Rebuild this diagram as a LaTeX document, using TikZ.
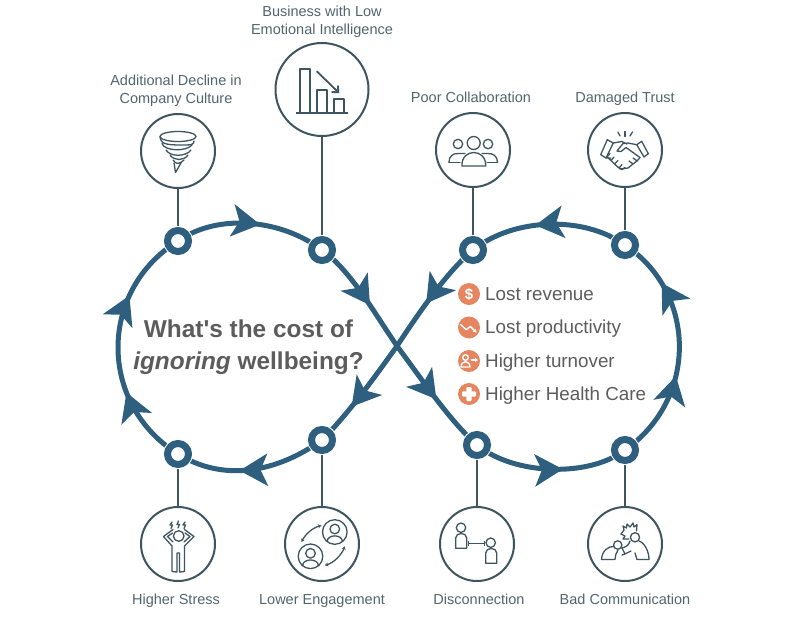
\documentclass[tikz,border=0pt]{standalone}
\usepackage{fontspec}
\setmainfont{Liberation Sans}
\newfontface\straightbold{Liberation Sans Bold}
\usetikzlibrary{positioning,arrows.meta,decorations.markings,backgrounds}
\definecolor{ringblue}{HTML}{2E5F7E}
\definecolor{stemgray}{HTML}{3E5560}
\definecolor{labelgray}{HTML}{51656F}
\definecolor{listgray}{HTML}{5C5C5C}
\definecolor{bulletorange}{HTML}{E58660}
\tikzset{
  dot/.style={circle,draw=ringblue,line width=7pt,fill=white,minimum size=21pt,inner sep=0pt,
    preaction={draw=white,line width=9pt}},
  iconring/.style={circle,draw=stemgray,line width=2pt,fill=white,minimum size=#1,inner sep=0pt},
  ringline/.style={color=ringblue,line width=5pt},
  midtip/.style={postaction={decorate,decoration={markings,mark=at position #1 with
    {\arrow{Stealth[length=28pt,width=32pt,inset=7pt]}}}}},
  stem/.style={draw=stemgray,line width=2pt},
  icon/.style={draw=stemgray,line width=1.3pt,line join=round,line cap=round},
  wicon/.style={draw=white,line width=1.4pt,line join=round,line cap=round},
  toplabel/.style={text=labelgray,font=\fontsize{14.5}{18}\selectfont,align=center,text depth=3pt,above=#1},
  botlabel/.style={text=labelgray,font=\fontsize{14.5}{18}\selectfont,text height=10pt,text depth=3pt,below=#1},
  bullet/.style={circle,fill=bulletorange,minimum size=22pt,inner sep=0pt,text=white,
    font=\fontsize{15}{15}\selectfont\bfseries},
  listtext/.style={text=listgray,font=\fontsize{18.8}{20}\selectfont,anchor=base west,inner sep=0pt},
}
\begin{document}
\begin{tikzpicture}[x=1pt,y=-1pt]
  \useasboundingbox (0,0) rectangle (800,627);

  \node (culturedot) [dot] at (178,241) {};
  \node (bizdot) [dot] at (322,250) {};
  \node (collabdot) [dot] at (473,250) {};
  \node (trustdot) [dot] at (625,245) {};
  \node (stressdot) [dot] at (178,454) {};
  \node (engagedot) [dot] at (322,440) {};
  \node (disconnectdot) [dot] at (477,445) {};
  \node (commdot) [dot] at (625,450) {};
  \coordinate (cross) at (397,346);

  \node (culture) [iconring=74pt] at (178,151) {};
  \node (biz) [iconring=93pt] at (322,89.5) {};
  \node (collab) [iconring=74pt] at (473,150) {};
  \node (trust) [iconring=74pt] at (625,150) {};
  \node (stress) [iconring=74pt] at (178,544) {};
  \node (engage) [iconring=74pt] at (322,544) {};
  \node (disconnect) [iconring=74pt] at (477,544) {};
  \node (comm) [iconring=74pt] at (625,544) {};

  \node (culturetxt) [toplabel=3pt of culture,xshift=-2pt] {Additional Decline in\\Company Culture};
  \node (biztxt) [toplabel=1pt of biz] {Business with Low\\Emotional Intelligence};
  \node (collabtxt) [toplabel=3pt of collab,xshift=-2pt] {Poor Collaboration};
  \node (trusttxt) [toplabel=3pt of trust] {Damaged Trust};
  \node (stresstxt) [botlabel=9pt of stress,xshift=-2pt] {Higher Stress};
  \node (engagetxt) [botlabel=9pt of engage] {Lower Engagement};
  \node (disconnecttxt) [botlabel=9pt of disconnect,xshift=2pt] {Disconnection};
  \node (commtxt) [botlabel=9pt of comm] {Bad Communication};

  \begin{scope}[on background layer]
    \draw [ringline,midtip=0.56] (culturedot.center) .. controls (218,213) and (281,219) .. (bizdot.center);
    \draw [ringline,midtip=0.60] (bizdot.center) .. controls (351,271) and (373,311) .. (cross);
    \draw [ringline,midtip=0.52] (cross) .. controls (423,381) and (450,421) .. (disconnectdot.center);
    \draw [ringline,midtip=0.58] (disconnectdot.center) .. controls (515,476) and (590,477) .. (commdot.center);
    \draw [ringline,midtip=0.38,midtip=0.78] (commdot.center) .. controls (698,399) and (697,293) .. (trustdot.center);
    \draw [ringline,midtip=0.58] (trustdot.center) .. controls (583,215) and (513,218) .. (collabdot.center);
    \draw [ringline,midtip=0.58] (collabdot.center) .. controls (447,272) and (420,311) .. (cross);
    \draw [ringline,midtip=0.63] (cross) .. controls (372,381) and (347,415) .. (engagedot.center);
    \draw [ringline,midtip=0.58] (engagedot.center) .. controls (276,473) and (223,482) .. (stressdot.center);
    \draw [ringline,midtip=0.32,midtip=0.71] (stressdot.center) .. controls (98,404) and (98,291) .. (culturedot.center);
    \draw [stem] (culturedot) -- (culture);
    \draw [stem] (bizdot) -- (biz);
    \draw [stem] (collabdot) -- (collab);
    \draw [stem] (trustdot) -- (trust);
    \draw [stem] (stressdot) -- (stress);
    \draw [stem] (engagedot) -- (engage);
    \draw [stem] (disconnectdot) -- (disconnect);
    \draw [stem] (commdot) -- (comm);
  \end{scope}

  % title and list
  \node (title) [text=listgray,font=\fontsize{24.4}{32}\selectfont\bfseries,align=center] at (248.5,347)
    {What{\straightbold '}s the cost of\\\textit{ignoring} wellbeing?};
  \node (revenue) [bullet] at (469,294) {\$};
  \node (productivity) [bullet] at (469,327.5) {};
  \node (turnover) [bullet] at (469,361) {};
  \node (healthcare) [bullet] at (469,394) {};
  \node (revenuetxt) [listtext] at (485,300) {Lost revenue};
  \node (productivitytxt) [listtext] at (485,333.5) {Lost productivity};
  \node (turnovertxt) [listtext] at (485,367) {Higher turnover};
  \node (healthcaretxt) [listtext] at (485,400) {Higher Health Care};

  \begin{scope}[shift={(469,327.5)}]
    \draw [wicon,-{Stealth[length=3.5pt,width=4pt]}] (-8.5,-3) -- (-2.7,2.2) -- (1.3,-1) -- (7.5,5);
  \end{scope}
  \begin{scope}[shift={(469,361)}]
    \draw [wicon] (-3.5,-3.5) circle (2.8);
    \draw [wicon] (-8,6) .. controls (-8,-1) and (1,-1) .. (1,6) -- cycle;
    \draw [wicon,-{Stealth[length=3pt,width=4pt]}] (2.5,-1) -- (9,-1);
  \end{scope}
  \begin{scope}[shift={(469,394)}]
    \fill [white,rounded corners=1pt] (-7,-2.7) rectangle (7,2.7);
    \fill [white,rounded corners=1pt] (-2.7,-7) rectangle (2.7,7);
  \end{scope}

  % tornado
  \begin{scope}[shift={(178,151)}]
    \draw [icon] (0,-14.5) ellipse (18 and 5);
    \draw [icon] (-18,-14) .. controls (-17,-6) and (-10,-6) .. (8,-6) .. controls (14,-6) and (16,-7) .. (16,-10);
    \draw [icon] (-16,-7.5) .. controls (-14,0) and (8,1) .. (14,-6);
    \draw [icon] (-12,-1) .. controls (-8,6) and (8,6) .. (13,-1);
    \draw [icon] (-8,4) .. controls (-4,10) and (6,10) .. (10,4);
    \draw [icon] (-5,9) .. controls (-2,14) and (2,13) .. (6,9);
    \draw [icon] (-4,12) -- (-2.5,21.5) -- (3,12);
  \end{scope}

  % falling bars
  \begin{scope}[shift={(322,89.5)}]
    \draw [icon,line width=1.8pt] (-22.3,22.7) -- (-22.3,-20.7) -- (-12.3,-20.7) -- (-12.3,22.7);
    \draw [icon,line width=1.8pt] (-5,22.7) -- (-5,0.3) -- (5,0.3) -- (5,22.7);
    \draw [icon,line width=1.8pt] (12.3,22.7) -- (12.3,9.3) -- (21.7,9.3) -- (21.7,22.7);
    \draw [icon,line width=2pt,line cap=butt] (-25.7,23.3) -- (26,23.3);
    \draw [icon,line width=1.8pt,-{Straight Barb[length=5pt,width=9pt]}] (-5,-18) -- (17.3,3.7);
  \end{scope}

  % three people
  \begin{scope}[shift={(473,150)}]
    \draw [icon] (0.7,-7) circle (6.5);
    \draw [icon] (-15,-6) circle (4.7);
    \draw [icon] (15,-6) circle (4.7);
    \draw [icon] (-11,16) .. controls (-12,-2) and (13.5,-2) .. (12.7,16) -- cycle;
    \draw [icon] (-24,12.3) .. controls (-24,6) and (-20,3) .. (-14,3.5) -- (-8,3.5);
    \draw [icon] (-24,12.3) -- (-13,12.3);
    \draw [icon] (24.5,12.3) .. controls (24.5,6) and (20,3) .. (14,3.5) -- (9,3.5);
    \draw [icon] (24.5,12.3) -- (14,12.3);
  \end{scope}

  % handshake
  \begin{scope}[shift={(625,150)}]
    \draw [icon] (-17.7,-10.3) -- (-24.3,4.7) -- (-19,8) -- (-11.7,-7) -- cycle;
    \draw [icon] (16.7,-8.7) -- (23.3,3.7) -- (19,7) -- (11.7,-5.3) -- cycle;
    \draw [icon] (-7,-18) -- (-5,-14);
    \draw [icon] (0,-18.5) -- (0,-13.5);
    \draw [icon] (7.5,-18) -- (5,-14);
    \draw [icon] (-11.7,-7) -- (-3,-8.5) -- (2,-6) (11.7,-5.3) -- (3,-7) -- (-2,-6.5) -- (-8,1) -- (-4,1.5) -- (1,-2.5) -- (15,7.5);
    \draw [icon] (15,7.5) -- (12,11) -- (8,8) (12,11) -- (8,14) -- (4,11) (8,14) -- (3,18) -- (-5,19);
    \draw [icon] (-19,8) -- (-14.5,8) (-15,3.5) -- (-18,7) -- (-14,10.5) -- (-11,7) (-14,10.5) -- (-10.5,14) -- (-7,10.5) (-10.5,14) -- (-6,18) -- (-3,14.5) (-6,18) -- (-3,19.5) -- (0,17.5);
  \end{scope}

  % stressed person
  \begin{scope}[shift={(178,544)}]
    \draw [icon] (0.7,-8) circle (5.3);
    \draw [icon] (-5,-14.5) -- (-14.5,-7.5) -- (-6,2) -- (-6,27.5) -- (-1,28) -- (-1,9) -- (1.5,9) -- (1.5,28) -- (6.5,27.5) -- (6.5,2) -- (16,-7.5) -- (6.5,-14.5);
    \draw [icon] (-5.5,-11) -- (-10.5,-7.5) -- (-5,-2);
    \draw [icon] (7,-11) -- (12,-7.5) -- (6,-2);
    \draw [icon] (-6,-22) -- (-8,-19) -- (-5.5,-19) -- (-7,-15.5);
    \draw [icon] (0.5,-23) -- (-1,-19.5) -- (1.5,-19.5) -- (0,-16);
    \draw [icon] (7,-22) -- (5,-19) -- (7.5,-19) -- (6,-15.5);
  \end{scope}

  % two people swapping
  \begin{scope}[shift={(322.5,544)}]
    \draw [icon] (12.3,-12) circle (12.3);
    \draw [icon] (12.3,-15) circle (4.8);
    \draw [icon] (4.5,-2.5) .. controls (5,-10) and (19.5,-10) .. (20,-2.5);
    \draw [icon] (-12,12.3) circle (12.3);
    \draw [icon] (-12,9.3) circle (4.8);
    \draw [icon] (-20,21.8) .. controls (-19.5,14) and (-4.5,14) .. (-4,21.8);
    \draw [icon,{Stealth[length=3.5pt,width=4pt]}-{Stealth[length=3.5pt,width=4pt]}] (-21,-2) .. controls (-17,-10) and (-10,-16) .. (-1,-18.7);
    \draw [icon,{Stealth[length=3.5pt,width=4pt]}-{Stealth[length=3.5pt,width=4pt]}] (2.3,21.3) .. controls (11,19) and (19,11) .. (22.3,2.3);
  \end{scope}

  % two people apart
  \begin{scope}[shift={(477,544)}]
    \draw [icon] (-16,-16.3) circle (4.7);
    \draw [icon] (-21.3,4.3) -- (-21.3,-6) .. controls (-21.3,-12) and (-10.3,-12) .. (-10.3,-6) -- (-10.3,4.3) -- cycle;
    \draw [icon] (13.7,-1.3) circle (4.7);
    \draw [icon] (8.7,19.3) -- (8.7,9) .. controls (8.7,3) and (19.7,3) .. (19.7,9) -- (19.7,19.3) -- cycle;
    \draw [icon,{Bar[width=5pt]}-{Bar[width=5pt]}] (-9.3,-0.7) -- (8,-0.7);
  \end{scope}

  % argument
  \begin{scope}[shift={(625,544)}]
    \draw [icon] (10,-6.7) circle (4.6);
    \draw [icon] (-7.3,1) circle (4.2);
    \draw [icon] (-23.5,15.5) .. controls (-23,7) and (-17,2) .. (-11,2.5);
    \draw [icon] (-23.5,15.5) -- (-10,15.5) .. controls (-10,12) and (-9,9) .. (-7,6);
    \draw [icon] (-3,4) -- (0,10) -- (6,7) (0,10) -- (-3,11);
    \draw [icon] (5,-3) .. controls (4,1) and (1,3) .. (-3,4);
    \draw [icon] (14,-3) .. controls (20,-1) and (24,8) .. (24,15.5) -- (12,15.5) -- (10,9);
    \draw [icon] (-4,-10) -- (-1,-14) -- (-2,-18) -- (1.5,-16) -- (2,-20) -- (5,-17) -- (8,-21) -- (9,-17) -- (12,-19.5) -- (11.5,-13);
    \draw [icon] (-4,-10) -- (0,-8) -- (-2,-5) -- (4,-5);
  \end{scope}
\end{tikzpicture}
\end{document}
